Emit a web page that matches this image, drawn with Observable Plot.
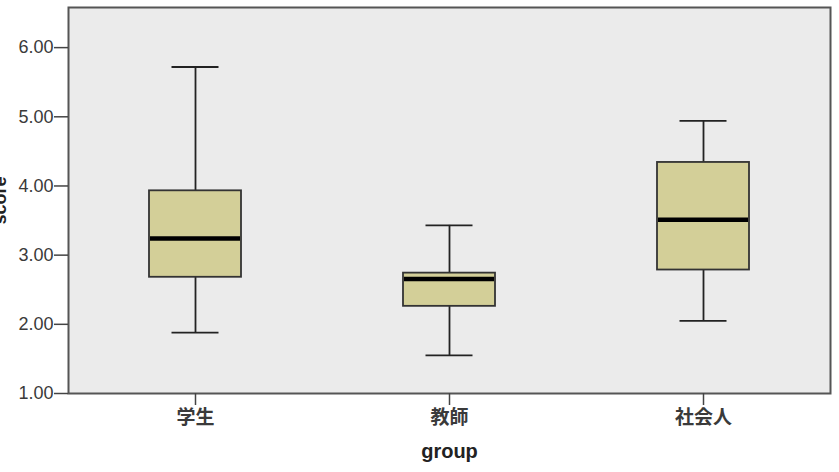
<!DOCTYPE html>
<html>
<head>
<meta charset="utf-8">
<script src="https://cdn.jsdelivr.net/npm/d3@7"></script>
<script src="https://cdn.jsdelivr.net/npm/@observablehq/plot@0.6"></script>
<style>
  html, body { margin: 0; padding: 0; background: #ffffff; }
  #chart { width: 839px; height: 472px; overflow: hidden; }
  svg { display: block; }
</style>
</head>
<body>
<div id="chart"></div>
<script>
const groups = ["学生", "教師", "社会人"];
const whiskerLow  = [1.88, 1.55, 2.05];
const q1          = [2.68, 2.26, 2.785];
const median      = [3.24, 2.655, 3.51];
const q3          = [3.93, 2.74, 4.34];
const whiskerHigh = [5.72, 3.43, 4.94];
const yTicks = [1, 2, 3, 4, 5, 6];
const yLabel = "score";
const xLabel = "group";

const rows = groups.map((g, i) => ({
  group: g, lo: whiskerLow[i], q1: q1[i], med: median[i], q3: q3[i], hi: whiskerHigh[i]
}));

const W = 839, H = 472;
const mL = 68, mR = 9, mT = 7, mB = 79;
const band = (W - mL - mR) / groups.length;
const boxInset = (band - 92) / 2;
const capInset = (band - 47) / 2;
const font = "'Liberation Sans', Arial, 'Noto Sans CJK JP', sans-serif";

const chart = Plot.plot({
  width: W,
  height: H,
  marginLeft: mL,
  marginRight: mR,
  marginTop: mT,
  marginBottom: mB,
  style: { fontFamily: font, background: "#ffffff", overflow: "visible" },
  x: { type: "band", domain: groups, padding: 0, align: 0.5, label: null },
  y: { domain: [1, 6.58], label: null },
  marks: [
    Plot.frame({ fill: "#ebebeb", stroke: null }),
    // whiskers
    Plot.ruleX(rows, { x: "group", y1: "lo", y2: "q1", stroke: "#222", strokeWidth: 1.8 }),
    Plot.ruleX(rows, { x: "group", y1: "q3", y2: "hi", stroke: "#222", strokeWidth: 1.8 }),
    Plot.tickY(rows, { x: "group", y: "lo", stroke: "#222", strokeWidth: 1.8, insetLeft: capInset, insetRight: capInset }),
    Plot.tickY(rows, { x: "group", y: "hi", stroke: "#222", strokeWidth: 1.8, insetLeft: capInset, insetRight: capInset }),
    // boxes
    Plot.barY(rows, { x: "group", y1: "q1", y2: "q3", fill: "#d3cf98", stroke: "#333", strokeWidth: 1.8, insetLeft: boxInset, insetRight: boxInset }),
    Plot.tickY(rows, { x: "group", y: "med", stroke: "#000", strokeWidth: 4.5, insetLeft: boxInset + 1, insetRight: boxInset + 1 }),
    Plot.frame({ stroke: "#555", strokeWidth: 2 }),
    Plot.axisY({
      ticks: yTicks, tickFormat: d3.format(".2f"), tickSize: 14, tickPadding: 1,
      fontSize: 18, stroke: "#444", strokeWidth: 1.5, color: "#3a3a3a", label: null
    }),
    Plot.axisX({
      tickSize: 12, tickPadding: 5, fontSize: 19, fontWeight: "bold", stroke: "#444", strokeWidth: 1.5,
      color: "#3a3a3a", label: null
    }),
    Plot.text([yLabel], {
      frameAnchor: "left", dx: -63, rotate: -90, textAnchor: "middle", lineAnchor: "bottom",
      fontSize: 18, fontWeight: "bold", fill: "#222"
    }),
    Plot.text([xLabel], {
      frameAnchor: "bottom", dy: 64, lineAnchor: "bottom",
      fontSize: 20, fontWeight: "bold", fill: "#222"
    })
  ]
});

document.getElementById("chart").appendChild(chart);
</script>
</body>
</html>
